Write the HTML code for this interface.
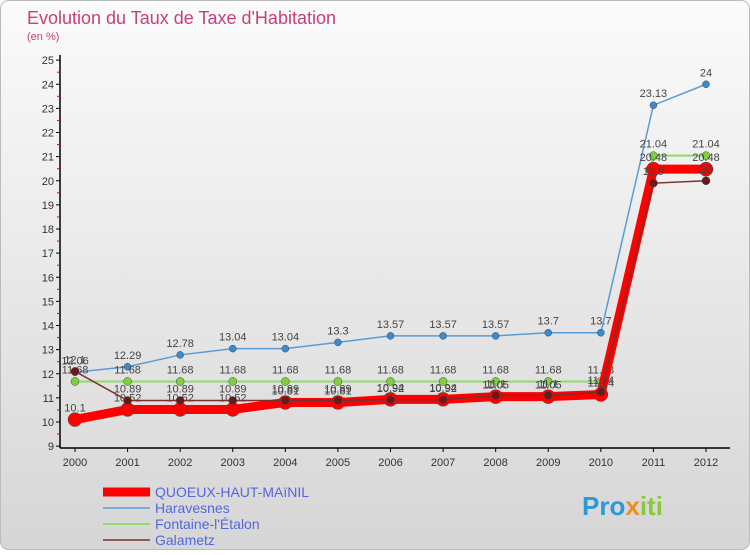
<!DOCTYPE html>
<html><head><meta charset="utf-8"><style>
body{margin:0;width:750px;height:550px;overflow:hidden;font-family:"Liberation Sans",sans-serif}
</style></head><body>
<svg width="750" height="550" xmlns="http://www.w3.org/2000/svg" font-family="Liberation Sans, sans-serif">
<defs><linearGradient id="bg" x1="0" y1="0" x2="0" y2="1"><stop offset="0" stop-color="#fbfbfb"/><stop offset="1" stop-color="#d6d6d6"/></linearGradient></defs>
<rect x="0.5" y="0.5" width="749" height="549" rx="8" fill="url(#bg)" stroke="#bbb"/>
<text x="27" y="24" font-size="18" fill="#c8407a">Evolution du Taux de Taxe d'Habitation</text>
<text x="27" y="40" font-size="11" fill="#c8407a">(en %)</text>
<g id="axes"></g><g id="series"></g><g id="legend"></g>
<text x="582" y="515" font-size="26" font-weight="bold" fill="#2a9ad8">Pro<tspan fill="#f28c1a">x</tspan><tspan fill="#8cc63f">iti</tspan></text>
</svg>
<script>
const years=[2000,2001,2002,2003,2004,2005,2006,2007,2008,2009,2010,2011,2012];
const mainVals=[10.1,10.52,10.52,10.52,10.81,10.81,10.94,10.94,11.05,11.05,11.14,20.48,20.48];
const haraVals=[12.06,12.29,12.78,13.04,13.04,13.3,13.57,13.57,13.57,13.7,13.7,23.13,24];
const fontVals=[11.68,11.68,11.68,11.68,11.68,11.68,11.68,11.68,11.68,11.68,11.68,21.04,21.04];
const galaVals=[12.1,10.89,10.89,10.89,10.89,10.89,10.92,10.92,11.1,11.1,11.24,19.9,20];
const yTicks=[9,10,11,12,13,14,15,16,17,18,19,20,21,22,23,24,25];
const ns="http://www.w3.org/2000/svg";
const X=i=>75+i*(706-75)/12, Y=v=>422-(v-10)*24.125;
function mk(p,t,a){const e=document.createElementNS(ns,t);for(const k in a)e.setAttribute(k,a[k]);p.appendChild(e);return e;}
const ax=document.getElementById('axes');
let l=mk(ax,'line',{x1:60,y1:55,x2:60,y2:448,stroke:'#000','stroke-width':1.5});

l=mk(ax,'line',{x1:60,y1:448,x2:730,y2:448,stroke:'#000','stroke-width':1.5});

yTicks.forEach(v=>{mk(ax,'line',{x1:56,y1:Y(v),x2:60,y2:Y(v),stroke:'#000'});
 if(v<25)mk(ax,'line',{x1:57,y1:Y(v+0.5),x2:60,y2:Y(v+0.5),stroke:'#e00'});
 const t=mk(ax,'text',{x:54,y:Y(v)+4,'font-size':11,'text-anchor':'end',fill:'#333'});t.textContent=v;
 });
years.forEach((y,i)=>{mk(ax,'line',{x1:X(i),y1:448,x2:X(i),y2:452,stroke:'#000'});
 const t=mk(ax,'text',{x:X(i),y:466,'font-size':11,'text-anchor':'middle',fill:'#333'});t.textContent=y;
 });
const S=document.getElementById('series');
const series=[
 {n:'haravesnes',v:haraVals,c:'#5b9bd5',w:1.5,r:3.5,f:'#3a8ad0'},
 {n:'fontaine',v:fontVals,c:'#8fdc6a',w:2,r:4,f:'#7ed040'},
 {n:'main',v:mainVals,c:'#f00',w:9,r:7,f:'#f00'},
 {n:'galametz',v:galaVals,c:'#7a3030',w:1.5,r:4,f:'#6a1818'}];
series.forEach(s=>{const g=mk(S,'g',{});
 
 const p=mk(g,'polyline',{points:s.v.map((v,i)=>X(i)+','+Y(v)).join(' '),fill:'none',stroke:s.c,'stroke-width':s.w});
 
 s.v.forEach((v,i)=>{const c=mk(g,'circle',{cx:X(i),cy:Y(v),r:s.r,fill:s.f,stroke:'#444','stroke-width':0.5});
  
  const t=mk(g,'text',{x:X(i),y:Y(v)-8,'font-size':11,'text-anchor':'middle',fill:'#444'});t.textContent=v;
  });});
const L=document.getElementById('legend');
[['QUOEUX-HAUT-MAïNIL','#f00',9],['Haravesnes','#5b9bd5',1.5],['Fontaine-l\'Étalon','#8fdc6a',2],['Galametz','#7a3030',1.5]].forEach((d,i)=>{
 const y=492+i*16;const g=mk(L,'g',{});
 
 mk(g,'line',{x1:103,y1:y,x2:150,y2:y,stroke:d[1],'stroke-width':d[2]});
 const t=mk(g,'text',{x:155,y:y+5,'font-size':14,fill:'#5566dd'});t.textContent=d[0];});
</script>
</body></html>
